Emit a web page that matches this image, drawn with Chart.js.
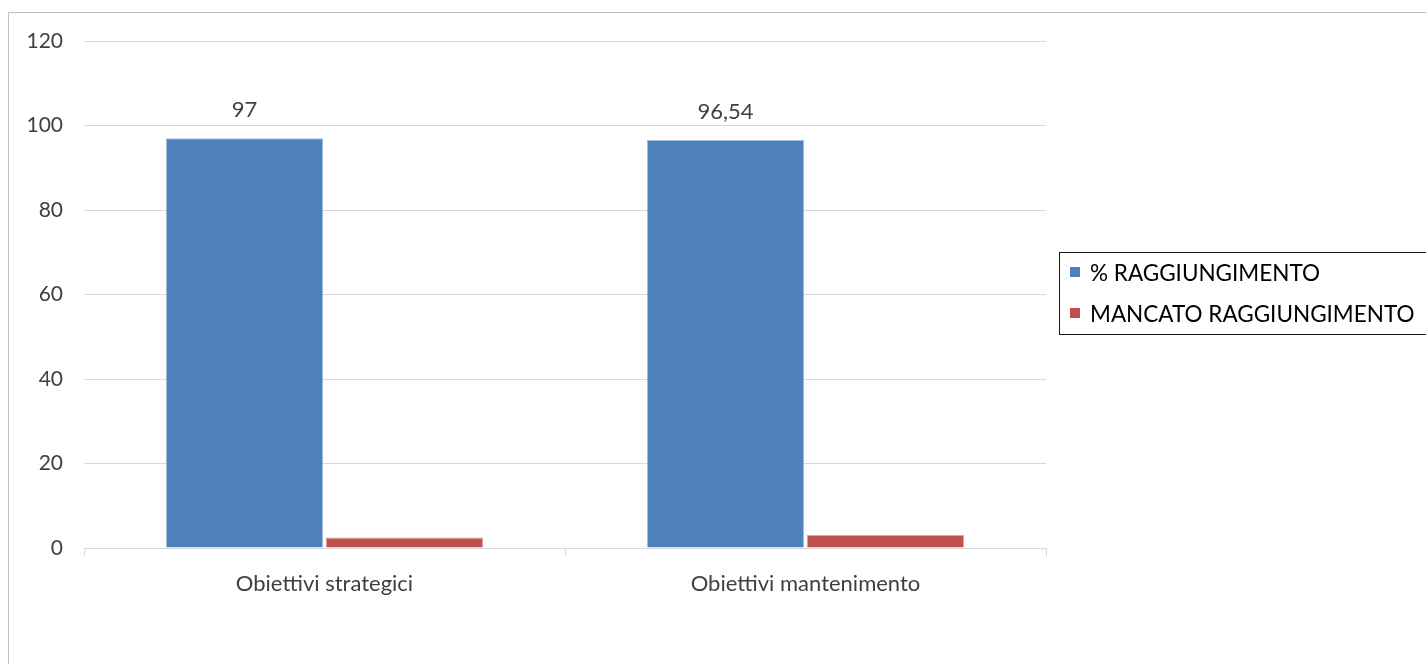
<!DOCTYPE html>
<html>
<head>
<meta charset="utf-8">
<script src="https://cdn.jsdelivr.net/npm/chart.js@4.4.1/dist/chart.umd.min.js"></script>
<style>
  html, body { margin: 0; padding: 0; background: #fff; overflow: hidden; }
  #wrap { position: relative; width: 1426px; height: 664px; }
  #frame {
    position: absolute; left: 8px; top: 12px; width: 1500px; height: 700px;
    border-left: 1px solid #bfbfbf; border-top: 1px solid #bfbfbf;
  }
  canvas { position: absolute; left: 0; top: 0; }
</style>
</head>
<body>
<div id="wrap">
  <div id="frame"></div>
  <canvas id="chart" width="1426" height="664"></canvas>
</div>
<script>
// Categories and series
const categories = ['Obiettivi strategici', 'Obiettivi mantenimento'];
const raggiungimento = [97, 96.54];
const mancatoRaggiungimento = [2.5, 3.1];
const seriesNames = ['% RAGGIUNGIMENTO', 'MANCATO RAGGIUNGIMENTO'];
const yTicks = [0, 20, 40, 60, 80, 100, 120];

const FONT = 'Lato, "Liberation Sans", sans-serif';
const TEXT = '#404040';

// Value labels above the bars of the first series
const valueLabels = {
  id: 'valueLabels',
  afterDatasetsDraw(chart) {
    const ctx = chart.ctx;
    const meta = chart.getDatasetMeta(0);
    const data = chart.data.datasets[0].data;
    ctx.save();
    ctx.font = '22px ' + FONT;
    ctx.fillStyle = TEXT;
    ctx.textAlign = 'center';
    ctx.textBaseline = 'alphabetic';
    meta.data.forEach((bar, i) => {
      const txt = String(data[i]).replace('.', ',');
      ctx.fillText(txt, bar.x, bar.y - 21);
    });
    ctx.restore();
  }
};

// Boxed legend drawn to the right of the plot
const boxedLegend = {
  id: 'boxedLegend',
  afterDraw(chart, args, opts) {
    const ctx = chart.ctx;
    ctx.save();
    ctx.strokeStyle = '#1a1a1a';
    ctx.lineWidth = 1;
    ctx.strokeRect(opts.x + 0.5, opts.y + 0.5, opts.w, opts.h);
    ctx.font = '22.5px ' + FONT;
    ctx.textBaseline = 'middle';
    ctx.textAlign = 'left';
    chart.data.datasets.forEach((ds, i) => {
      const cy = opts.y + opts.firstRow + i * opts.rowGap;
      ctx.fillStyle = ds.backgroundColor;
      ctx.fillRect(opts.x + 11, cy - 5, 10, 10);
      ctx.fillStyle = '#000';
      ctx.fillText(ds.label, opts.x + 31, cy + 2);
    });
    ctx.restore();
  }
};

new Chart(document.getElementById('chart'), {
  type: 'bar',
  data: {
    labels: categories,
    datasets: [
      {
        label: seriesNames[0],
        data: raggiungimento,
        backgroundColor: '#4f81bd',
        borderColor: '#a9c1de',
        borderWidth: 1
      },
      {
        label: seriesNames[1],
        data: mancatoRaggiungimento,
        backgroundColor: '#c0504d',
        borderColor: '#dfa5a4',
        borderWidth: 1
      }
    ]
  },
  options: {
    responsive: false,
    animation: false,
    devicePixelRatio: 1,
    layout: { padding: { left: 0, top: 41, right: 380, bottom: 40 } },
    datasets: {
      bar: { categoryPercentage: 0.665, barPercentage: 0.985 }
    },
    plugins: {
      legend: { display: false },
      tooltip: { enabled: false },
      boxedLegend: { x: 1059, y: 252, w: 600, h: 82, firstRow: 20, rowGap: 41 }
    },
    scales: {
      y: {
        min: 0,
        max: 120,
        afterBuildTicks(scale) { scale.ticks = yTicks.map(v => ({ value: v })); },
        afterFit(scale) { scale.width = 84; },
        ticks: { font: { family: FONT, size: 21 }, color: TEXT, padding: 21 },
        grid: { color: '#d9d9d9', drawTicks: false },
        border: { display: false }
      },
      x: {
        afterFit(scale) { scale.height = 76; },
        ticks: { font: { family: FONT, size: 22 }, color: TEXT, padding: 15 },
        grid: { drawOnChartArea: false, drawTicks: true, tickLength: 8, color: '#d9d9d9', offset: true },
        border: { color: '#d9d9d9' }
      }
    }
  },
  plugins: [valueLabels, boxedLegend]
});
</script>
</body>
</html>
